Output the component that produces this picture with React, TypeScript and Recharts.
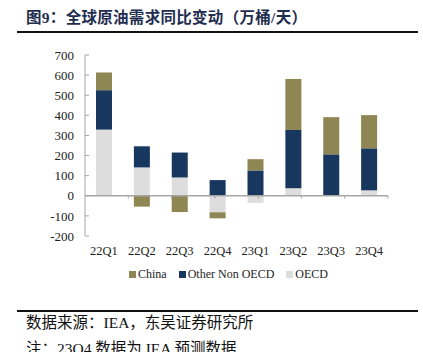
import { Bar, BarChart, Legend, ReferenceLine, XAxis, YAxis } from 'recharts';

const quarters = ['22Q1', '22Q2', '22Q3', '22Q4', '23Q1', '23Q2', '23Q3', '23Q4'];
const oecd = [329, 141, 91, -82, -35, 37, 0, 27];
const otherNonOecd = [196, 105, 124, 78, 126, 290, 206, 209];
const china = [88, -54, -81, -30, 56, 254, 185, 165];
const yTicks = [-200, -100, 0, 100, 200, 300, 400, 500, 600, 700];

const legendItems = [
  { key: 'china', label: 'China', color: '#8E8653' },
  { key: 'other', label: 'Other Non OECD', color: '#17375E' },
  { key: 'oecd', label: 'OECD', color: '#DDDDDD' },
];

const rows = quarters.map((q, i) => ({
  quarter: q,
  oecd: oecd[i],
  other: otherNonOecd[i],
  china: china[i],
}));

const serif = '"Liberation Serif", "Times New Roman", serif';
const cjk = '"Liberation Serif", "Noto Sans CJK SC", serif';

function LegendBox() {
  return (
    <div
      style={{
        display: 'flex',
        justifyContent: 'center',
        fontFamily: serif,
        fontSize: 12,
        color: '#222',
        paddingLeft: 56,
        marginTop: 3,
      }}
    >
      {legendItems.map((item) => (
        <span key={item.key} style={{ display: 'flex', alignItems: 'center', marginRight: 12 }}>
          <span style={{ width: 7, height: 7, background: item.color, marginRight: 2 }} />
          {item.label}
        </span>
      ))}
    </div>
  );
}

export default function App() {
  return (
    <div style={{ position: 'absolute', left: 0, top: 0, width: 423, height: 352, background: '#fff', overflow: 'hidden' }}>
      <div
        style={{
          position: 'absolute',
          left: 26,
          top: 5,
          fontFamily: cjk,
          fontWeight: 'bold',
          fontSize: 15.5,
          color: '#1F2D50',
          whiteSpace: 'nowrap',
          letterSpacing: 0.3,
        }}
      >
        图9：全球原油需求同比变动（万桶/天）
      </div>
      <div style={{ position: 'absolute', left: 17, top: 31, width: 401, height: 2, background: '#111' }} />

      <div style={{ position: 'absolute', left: 0, top: 0 }}>
        <BarChart
          width={423}
          height={300}
          data={rows}
          stackOffset="sign"
          barSize={16}
          margin={{ top: 55, right: 35, left: 25, bottom: 16 }}
        >
          <XAxis
            dataKey="quarter"
            tickLine={false}
            axisLine={false}
            interval={0}
            height={28}
            tickMargin={4}
            tick={{ fontFamily: serif, fontSize: 12.5, fill: '#222' }}
          />
          <XAxis xAxisId="grid" type="number" domain={[0, 8]} hide />
          <YAxis
            domain={[-200, 700]}
            ticks={yTicks}
            interval={0}
            width={60}
            tickSize={-4}
            tickMargin={15}
            stroke="#A6A6A6"
            tick={{ fontFamily: serif, fontSize: 13, fill: '#222' }}
          />
          <ReferenceLine y={0} stroke="#A6A6A6" strokeWidth={1.5} />
          {[1, 2, 3, 4, 5, 6, 7, 8].map((p) => (
            <ReferenceLine
              key={p}
              xAxisId="grid"
              segment={[
                { x: p, y: 0 },
                { x: p, y: -14 },
              ]}
              stroke="#A6A6A6"
            />
          ))}
          <Bar dataKey="oecd" stackId="a" fill="#DDDDDD" name="OECD" isAnimationActive={false} />
          <Bar dataKey="other" stackId="a" fill="#17375E" name="Other Non OECD" isAnimationActive={false} />
          <Bar dataKey="china" stackId="a" fill="#8E8653" name="China" isAnimationActive={false} />
          <Legend verticalAlign="bottom" height={20} content={() => <LegendBox />} />
        </BarChart>
      </div>

      <div style={{ position: 'absolute', left: 17, top: 310, width: 401, height: 1.5, background: '#111' }} />
      <div
        style={{
          position: 'absolute',
          left: 26,
          top: 310,
          fontFamily: cjk,
          fontSize: 15.5,
          lineHeight: '26px',
          color: '#111',
          whiteSpace: 'nowrap',
        }}
      >
        <div>数据来源：IEA，东吴证券研究所</div>
        <div>注：23Q4 数据为 IEA 预测数据</div>
      </div>
    </div>
  );
}
